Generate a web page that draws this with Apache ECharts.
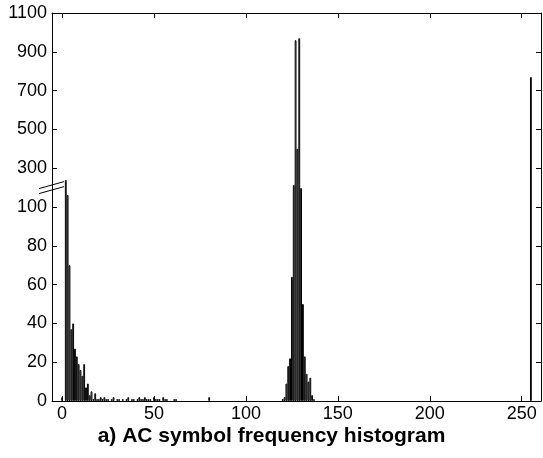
<!DOCTYPE html>
<html>
<head>
<meta charset="utf-8">
<script src="https://cdn.jsdelivr.net/npm/echarts@6/dist/echarts.min.js"></script>
<style>
html,body{margin:0;padding:0;background:#fff;}
#chart{width:543px;height:458px;}
</style>
</head>
<body>
<div id="chart"></div>
<script>
// AC symbol values (bins) and their counts
const bins = [0,2,3,4,5,6,7,8,9,10,11,12,13,14,15,16,17,18,19,20,21,22,23,24,25,27,28,30,31,33,35,36,38,39,41,42,43,44,45,46,47,48,50,51,52,53,55,56,57,61,62,80,
  120,121,122,123,124,125,126,127,128,129,130,131,132,133,134,135,136,137,255];
const counts = [2,239,162,70,37,40,27,23,19,16,13,19,7,9,3,5,1,4,1,1,2,1,2,1,1,1,2,1,1,1,1,2,1,1,1,2,1,1,2,1,1,1,2,1,1,1,2,1,1,1,1,2,
  1,2,9,18,22,64,213,960,400,970,198,50,23,14,10,12,3,1,770];
const xTicks = [0,50,100,150,200,250];
const yTickLabels = [0,20,40,60,80,100,300,500,700,900,1100];
const titleText = 'a) AC symbol frequency histogram';

// broken axis: 0..100 linear, above 100 compressed by factor 10
const BREAK = 100, FACTOR = 10;
function toDisp(v){ return v <= BREAK ? v : BREAK + (v - BREAK) / FACTOR; }
function fromDisp(d){ return d <= BREAK ? d : BREAK + (d - BREAK) * FACTOR; }

const data = bins.map((b, i) => [b, toDisp(counts[i])]);
const font = '"Liberation Sans", Arial, sans-serif';

const chart = echarts.init(document.getElementById('chart'), null, {renderer: 'canvas'});
const axisLineStyle = {color: '#000', width: 1};
const option = {
  animation: false,
  backgroundColor: '#fff',
  grid: {left: 52, top: 13, right: 2, bottom: 57, containLabel: false},
  title: {
    text: titleText, left: 'center', top: 421,
    textStyle: {fontFamily: font, fontWeight: 'bold', fontSize: 21, color: '#000'}
  },
  xAxis: [{
    type: 'value', min: -5.5, max: 260.5, position: 'bottom',
    axisLine: {show: true, onZero: false, lineStyle: axisLineStyle},
    axisTick: {show: true, inside: true, length: 5, lineStyle: axisLineStyle, customValues: xTicks},
    axisLabel: {show: true, customValues: xTicks, color: '#000', fontFamily: font, fontSize: 18, margin: 4},
    splitLine: {show: false}
  }, {
    type: 'value', min: -5.5, max: 260.5, position: 'top',
    axisLine: {show: true, onZero: false, lineStyle: axisLineStyle},
    axisTick: {show: true, inside: true, length: 5, lineStyle: axisLineStyle, customValues: xTicks},
    axisLabel: {show: false},
    splitLine: {show: false}
  }],
  yAxis: [{
    type: 'value', min: 0, max: 200, interval: 20, position: 'left',
    axisLine: {show: true, onZero: false, lineStyle: axisLineStyle},
    axisTick: {show: true, inside: true, length: 5, lineStyle: axisLineStyle},
    axisLabel: {
      color: '#000', fontFamily: font, fontSize: 18, margin: 5,
      formatter: function(v){ const r = Math.round(fromDisp(v)); return yTickLabels.indexOf(r) >= 0 ? String(r) : ''; }
    },
    splitLine: {show: false}
  }, {
    type: 'value', min: 0, max: 200, interval: 20, position: 'right',
    axisLine: {show: true, onZero: false, lineStyle: axisLineStyle},
    axisTick: {show: true, inside: true, length: 5, lineStyle: axisLineStyle},
    axisLabel: {show: false},
    splitLine: {show: false}
  }],
  series: [{
    type: 'bar',
    xAxisIndex: 0, yAxisIndex: 0,
    data: data,
    barWidth: '100%',
    itemStyle: {color: '#fff', borderColor: '#000', borderWidth: 1},
    silent: true
  }]
};
chart.setOption(option);

// axis break marker "//" placed through the axis scales
const ax = chart.convertToPixel({xAxisIndex: 0}, -5.5);
const by = chart.convertToPixel({yAxisIndex: 0}, 110);
function seg(dy){
  return {type: 'line', shape: {x1: ax - 13, y1: by + dy + 3.5, x2: ax + 12, y2: by + dy - 3.5},
          style: {stroke: '#000', lineWidth: 1}, z: 100};
}
chart.setOption({graphic: [seg(-2.5), seg(2.5)]});
</script>
</body>
</html>
